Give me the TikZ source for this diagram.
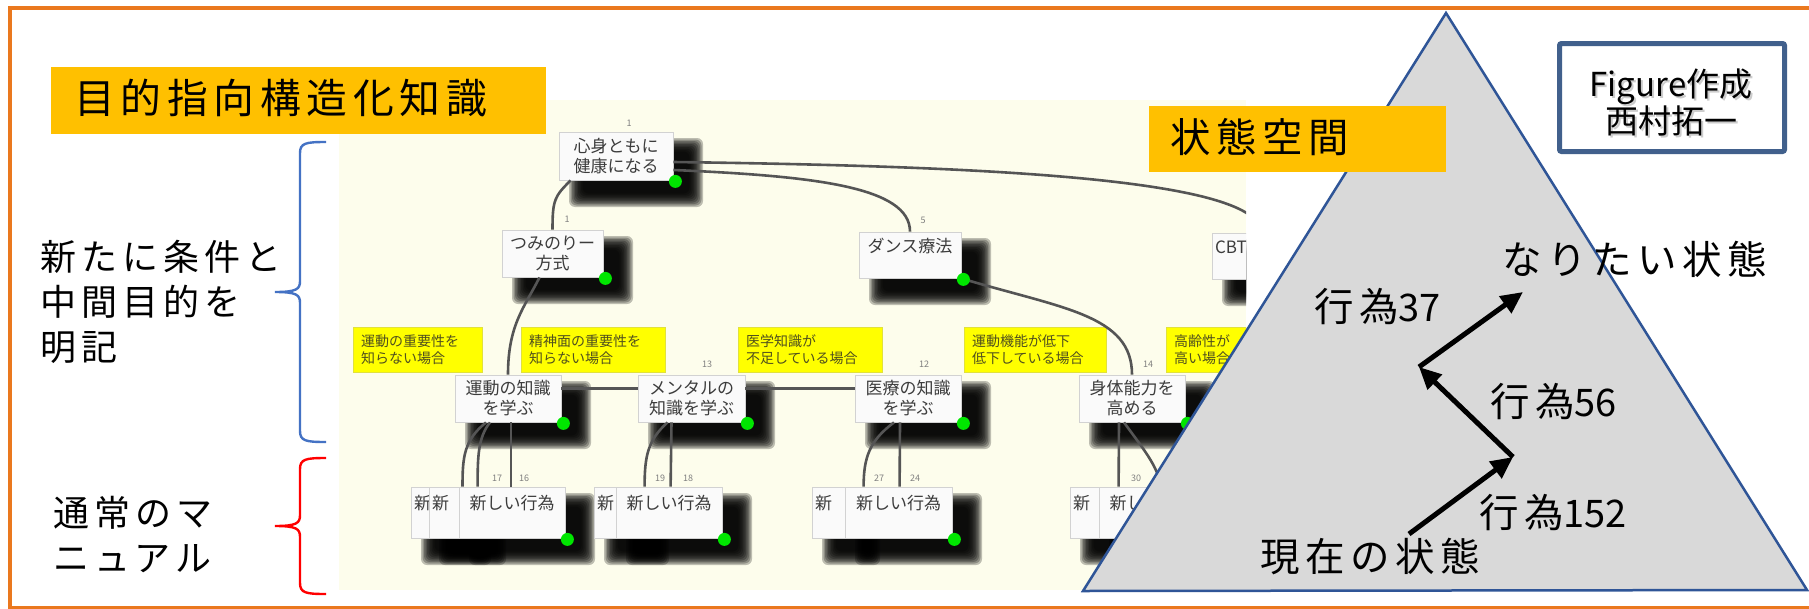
\documentclass[tikz,border=0pt]{standalone}
\usepackage{fontspec}
\setmainfont{Noto Sans CJK JP}
\newfontfamily\jpls[LetterSpace=14]{Noto Sans CJK JP}
\usetikzlibrary{calc,arrows.meta}
\definecolor{orng}{RGB}{234,120,30}
\definecolor{gold}{RGB}{255,192,0}
\definecolor{tribl}{RGB}{47,85,151}
\definecolor{trigr}{RGB}{217,217,217}
\definecolor{figbl}{RGB}{65,96,140}
\definecolor{bracebl}{RGB}{68,114,196}
\definecolor{ivory}{RGB}{253,253,236}
\definecolor{ylw}{RGB}{255,255,0}
\definecolor{gdotc}{RGB}{0,230,0}
\definecolor{connc}{RGB}{85,85,85}
\newcommand\fs[2]{\fontsize{#1}{#2}\selectfont}
\newcommand\tnode[6]{%
  \foreach \k in {0,...,9}{%
    \fill[black,opacity=0.25,rounded corners=6] ({#2+10+\k*1.5},{#3+6+\k*1.5}) rectangle ({#4+30-\k*1.5},{#5+27-\k*1.5});
  }%
  \node[tbox,minimum width={#4-#2},minimum height={#5-#3}] (#1) at ({(#2+#4)/2},{(#3+#5)/2}) {#6};
}
\begin{document}
\begin{tikzpicture}[x=1pt,y=-1pt,
  tbox/.style={draw={rgb,255:red,210;green,210;blue,210},fill={rgb,255:red,250;green,250;blue,250},line width=0.8pt,inner sep=3pt,align=center,font=\fs{17}{20},text={rgb,255:red,60;green,60;blue,60}},
  ybox/.style={draw={rgb,255:red,225;green,225;blue,60},fill=ylw,line width=1pt,inner xsep=8pt,inner ysep=4pt,align=left,font=\fs{14}{17},text={rgb,255:red,80;green,80;blue,30}},
  gd/.style={circle,fill=gdotc,inner sep=0pt,minimum size=13pt},
  num/.style={font=\fs{9}{10},text=gray,inner sep=0pt},
  conn/.style={draw=connc,line width=2.6pt},
  bigarrow/.style={line width=5pt,-{Triangle[length=22pt,width=20pt]}},
  lbl/.style={anchor=base west,inner sep=0pt,font=\jpls\fs{36}{40}},
  tlbl/.style={anchor=base west,inner sep=0pt,font=\jpls\fs{39.5}{42}},
  goldbox/.style={fill=gold}]
\useasboundingbox (0,0) rectangle (1809,608);
\fill[white] (0,0) rectangle (1809,608);

% ---------- screenshot of the goal tree ----------
\begin{scope}
\clip (339,100) rectangle (1246,590);
\fill[ivory] (339,100) rectangle (1246,590);
\node[ybox,text width=113pt,minimum height=45pt] (ya) at (417.5,349.5) {運動の重要性を\\知らない場合};
\node[ybox,text width=128pt,minimum height=45pt] (yb) at (593,349.5) {精神面の重要性を\\知らない場合};
\node[ybox,text width=128pt,minimum height=45pt] (yc) at (810,349.5) {医学知識が\\不足している場合};
\node[ybox,text width=126pt,minimum height=45pt] (yd) at (1035,349.5) {運動機能が低下\\低下している場合};
\node[ybox,text width=118pt,minimum height=45pt] (ye) at (1233,349.5) {高齢性が\\高い場合};

\tnode{root}{559}{132}{673}{180}{心身ともに\\健康になる}
\tnode{tumi}{502}{230}{603}{277}{つみのりー\\方式}
\tnode{dance}{859}{232}{961}{278}{ダンス療法\\\mbox{}}
\tnode{cbt}{1212}{233}{1310}{279}{\makebox[92pt][l]{CBT療法}\\\mbox{}}
\tnode{na}{455}{375}{561}{422}{運動の知識\\を学ぶ}
\tnode{nb}{638}{375}{745}{422}{メンタルの\\知識を学ぶ}
\tnode{nc}{855}{375}{961}{422}{医療の知識\\を学ぶ}
\tnode{nd}{1079}{375}{1185}{422}{身体能力を\\高める}
\tnode{gaa}{411}{487}{461}{538}{\makebox[44pt][l]{新}\\\mbox{}}
\tnode{gab}{429}{487}{476}{538}{\makebox[41pt][l]{新}\\\mbox{}}
\tnode{gac}{459}{487}{565}{538}{新しい行為\\\mbox{}}
\tnode{gba}{594}{487}{639}{538}{\makebox[39pt][l]{新}\\\mbox{}}
\tnode{gbb}{616}{487}{722}{538}{新しい行為\\\mbox{}}
\tnode{gca}{812}{487}{850}{538}{\makebox[32pt][l]{新}\\\mbox{}}
\tnode{gcb}{845}{487}{952}{538}{新しい行為\\\mbox{}}
\tnode{gda}{1070}{487}{1103}{538}{\makebox[27pt][l]{新}\\\mbox{}}
\tnode{gdb}{1099}{487}{1205}{538}{新しい行為\\\mbox{}}

\draw[conn] ($(root.south west)+(12,0)$) .. controls ($(root.south west)+(-4,16)$) and ($(tumi.north)+(0,-30)$) .. (tumi.north);
\draw[conn] ($(root.east)+(0,14)$) .. controls ($(root.east)+(140,20)$) and ($(dance.north)+(0,-45)$) .. (dance.north);
\draw[conn] ($(root.east)+(0,6)$) .. controls ($(root.east)+(300,10)$) and ($(cbt.north)+(0,-55)$) .. (cbt.north);
\draw[conn] ($(tumi.south)+(-13,0)$) .. controls ($(tumi.south)+(-28,30)$) and ($(na.north)+(0,-50)$) .. (na.north);
\draw[conn] (dance.south east) .. controls ($(dance.south east)+(100,30)$) and ($(nd.north)+(0,-60)$) .. (nd.north);
\draw[conn] ($(na.east)+(0,-10)$) -- ($(nb.west)+(0,-10)$);
\draw[conn] ($(nb.east)+(0,-10)$) -- ($(nc.west)+(0,-10)$);
\draw[conn] ($(na.south)+(-22,0)$) .. controls ($(na.south)+(-44,18)$) and ($(gab.north)+(10,-30)$) .. ($(gab.north)+(10,0)$);
\draw[conn] ($(na.south)+(-18,0)$) .. controls ($(na.south)+(-30,15)$) and ($(gac.north west)+(19,-30)$) .. ($(gac.north west)+(19,0)$);
\draw[conn] ($(na.south)+(3,0)$) -- ($(gac.north)+(-1,0)$);
\draw[conn] ($(nb.south)+(-24,0)$) .. controls ($(nb.south)+(-44,18)$) and ($(gbb.north west)+(29,-30)$) .. ($(gbb.north west)+(29,0)$);
\draw[conn] ($(nb.south)+(-20,0)$) -- ($(gbb.north west)+(55,0)$);
\draw[conn] ($(nc.south)+(-14,0)$) .. controls ($(nc.south)+(-38,18)$) and ($(gcb.north west)+(19,-30)$) .. ($(gcb.north west)+(19,0)$);
\draw[conn] ($(nc.south)+(-8,0)$) -- ($(gcb.north west)+(55,0)$);
\draw[conn] ($(nd.south)+(-13,0)$) -- ($(gdb.north west)+(20,0)$);
\draw[conn] ($(nd.south)+(-8,0)$) .. controls ($(nd.south)+(10,25)$) and ($(gdb.north west)+(60,-20)$) .. ($(gdb.north west)+(62,0)$);

\foreach \n in {root,tumi,dance,na,nb,nc,nd,gac,gbb,gcb,gdb}{
  \node[gd] (\n dot) at ($(\n.south east)+(2,1)$) {};
}
\node[num] (m1) at (629,123) {1};
\node[num] (m2) at (567,219) {1};
\node[num] (m3) at (923,220) {5};
\node[num] (m4) at (707,364) {13};
\node[num] (m5) at (924,364) {12};
\node[num] (m6) at (1148,364) {14};
\node[num] (m7) at (497,478) {17};
\node[num] (m8) at (524,478) {16};
\node[num] (m9) at (660,478) {19};
\node[num] (m10) at (688,478) {18};
\node[num] (m11) at (879,478) {27};
\node[num] (m12) at (915,478) {24};
\node[num] (m13) at (1136,478) {30};
\end{scope}

% ---------- state space triangle ----------
\fill[trigr,draw=tribl,line width=2.5pt,line join=miter] (1446,13) -- (1083,591) -- (1807,590) -- cycle;
\coordinate (a0) at (1409,534);
\coordinate (a1) at (1513,457);
\coordinate (a2) at (1419,367);
\coordinate (a3) at (1523,292);
\draw[bigarrow] (a0) -- (a1);
\draw[bigarrow] (a1) -- (a2);
\draw[bigarrow] (a2) -- (a3);
\node[tlbl] (goal) at (1502,274.2) {なりたい状態};
\node[tlbl] (act37) at (1314,321.2) {行為{\rmfamily\fs{38}{42}37}};
\node[tlbl] (act56) at (1490,416.2) {行為{\rmfamily\fs{38}{42}56}};
\node[tlbl] (act152) at (1479,527.2) {行為{\rmfamily\fs{38}{42}152}};
\node[tlbl] (now) at (1260,571.2) {現在の状態};

% ---------- labels ----------
\fill[goldbox] (51,67) rectangle (546,134);
\node[anchor=base west,inner sep=0pt,font=\jpls\fs{40.8}{44}] (title) at (74,113.1) {目的指向構造化知識};
\fill[goldbox] (1149,106) rectangle (1446,172);
\node[anchor=base west,inner sep=0pt,font=\jpls\fs{40.4}{44}] (space) at (1170,152.2) {状態空間};

\node[lbl] (l1) at (40,270.5) {新たに条件と};
\node[lbl] (l2) at (40,315.5) {中間目的を};
\node[lbl] (l3) at (40,360.5) {明記};
\node[lbl] (l4) at (53,526.6) {通常のマ};
\node[lbl] (l5) at (53,571.6) {ニュアル};

\draw[bracebl,line width=2.4pt] (326,142) .. controls (306,142) and (300,143) .. (300,153) -- (300,281) .. controls (300,289) and (297,292) .. (275,292) .. controls (297,292) and (300,295) .. (300,303) -- (300,431) .. controls (300,441) and (306,442) .. (326,442);
\draw[red,line width=2.4pt] (326,458) .. controls (306,458) and (300,459) .. (300,469) -- (300,515) .. controls (300,523) and (297,526) .. (275,526) .. controls (297,526) and (300,529) .. (300,537) -- (300,583) .. controls (300,593) and (306,594) .. (326,594);

\draw[figbl,fill=white,line width=5pt,rounded corners=2pt] (1559.5,43.5) rectangle (1784.5,151.5);
\node[anchor=base,inner sep=0pt,font=\fs{33}{37},text=gray!40] (fig1s) at (1673,98) {Figure作成};
\node[anchor=base,inner sep=0pt,font=\fs{33}{37},text=gray!40] (fig2s) at (1673,135) {西村拓一};
\node[anchor=base,inner sep=0pt,font=\fs{33}{37}] (fig1) at (1671,96) {Figure作成};
\node[anchor=base,inner sep=0pt,font=\fs{33}{37}] (fig2) at (1671,133) {西村拓一};

\draw[orng,line width=4pt] (10,7.5) rectangle (1830,607.5);
\end{tikzpicture}
\end{document}
